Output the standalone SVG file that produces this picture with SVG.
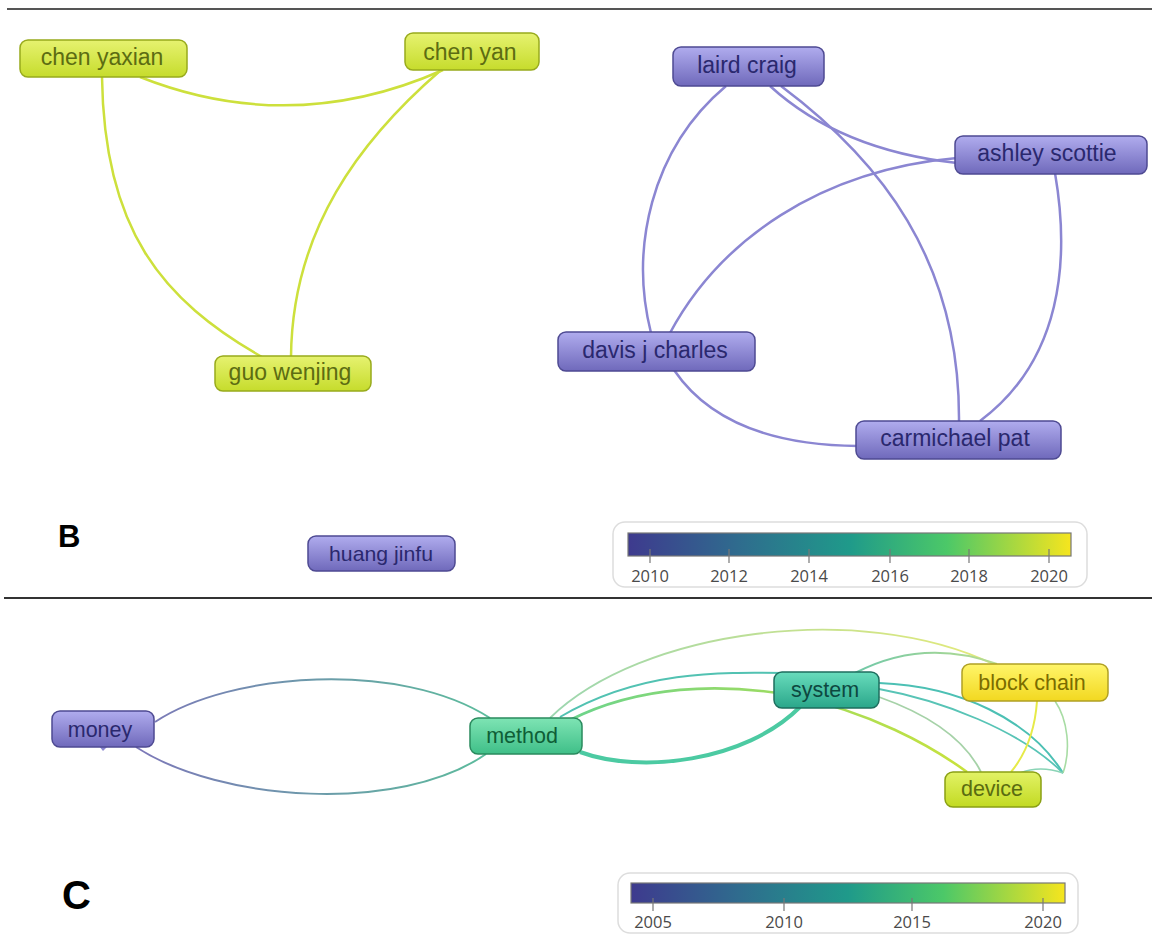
<svg xmlns="http://www.w3.org/2000/svg" width="1152" height="934" viewBox="0 0 1152 934">
<defs>
<linearGradient id="gYel" x1="0" y1="0" x2="0" y2="1"><stop offset="0" stop-color="#e6f270"/><stop offset="1" stop-color="#c6dc2c"/></linearGradient>
<linearGradient id="gPur" x1="0" y1="0" x2="0" y2="1"><stop offset="0" stop-color="#b0acee"/><stop offset="1" stop-color="#6f69bb"/></linearGradient>
<linearGradient id="gMeth" x1="0" y1="0" x2="0" y2="1"><stop offset="0" stop-color="#7ee4b4"/><stop offset="1" stop-color="#3fbf88"/></linearGradient>
<linearGradient id="gSys" x1="0" y1="0" x2="0" y2="1"><stop offset="0" stop-color="#68dcbc"/><stop offset="1" stop-color="#2aa68a"/></linearGradient>
<linearGradient id="gBlk" x1="0" y1="0" x2="0" y2="1"><stop offset="0" stop-color="#fff56a"/><stop offset="1" stop-color="#f2d820"/></linearGradient>
<linearGradient id="gDev" x1="0" y1="0" x2="0" y2="1"><stop offset="0" stop-color="#e2f266"/><stop offset="1" stop-color="#c2da22"/></linearGradient>
<linearGradient id="viridis" x1="0" y1="0" x2="1" y2="0"><stop offset="0" stop-color="#3e3a8e"/><stop offset="0.25" stop-color="#2f6c8e"/><stop offset="0.5" stop-color="#1f9a8a"/><stop offset="0.72" stop-color="#4cc868"/><stop offset="1" stop-color="#f6e51e"/></linearGradient>
<linearGradient id="eMoney" gradientUnits="userSpaceOnUse" x1="140" y1="0" x2="490" y2="0"><stop offset="0" stop-color="#7c78b8"/><stop offset="1" stop-color="#5cbc9c"/></linearGradient>
<linearGradient id="eTop" gradientUnits="userSpaceOnUse" x1="550" y1="0" x2="995" y2="0"><stop offset="0" stop-color="#9cd6b0"/><stop offset="1" stop-color="#e4ea78"/></linearGradient>
<linearGradient id="eMD" gradientUnits="userSpaceOnUse" x1="570" y1="0" x2="966" y2="0"><stop offset="0" stop-color="#6cd48c"/><stop offset="1" stop-color="#c8e23c"/></linearGradient>
<linearGradient id="eSB" gradientUnits="userSpaceOnUse" x1="855" y1="0" x2="995" y2="0"><stop offset="0" stop-color="#70c8a8"/><stop offset="1" stop-color="#b8dc90"/></linearGradient>
</defs>
<style>
.nt{font-family:"Liberation Sans",Arial,sans-serif;text-anchor:middle}
.b{font-size:23px}
.c{font-size:21.5px}
.ny rect{fill:url(#gYel);stroke:#98aa1c;stroke-width:1.5}
.ny text{fill:#5c6c12}
.np rect{fill:url(#gPur);stroke:#4e4a92;stroke-width:1.5}
.np text{fill:#2a286e}
.ey{fill:none;stroke:#cde03c;stroke-width:2.5}
.ep{fill:none;stroke:#8b86d2;stroke-width:2.5}
.ec{fill:none}
.lg{font-family:"Open Sans","DejaVu Sans",sans-serif;font-size:16.5px;fill:#4a4a4a;text-anchor:middle}
.tk{stroke:#777;stroke-width:1.2}
.pl{font-family:"Liberation Sans",Arial,sans-serif;font-weight:bold;fill:#000}
</style>
<rect x="0" y="0" width="1152" height="934" fill="#fff"/>
<line x1="7" y1="9" x2="1152" y2="9" stroke="#555" stroke-width="2"/>
<line x1="4" y1="598" x2="1152" y2="598" stroke="#333" stroke-width="2"/>

<g id="connectors">
<path class="ey" d="M140,77 Q292,137 443,70"/>
<path class="ey" d="M102,77 C104,230 162,300 262,357"/>
<path class="ey" d="M441,70 C360,140 292,230 291,357"/>
<path class="ep" d="M726,86 C650,150 630,250 651,333"/>
<path class="ep" d="M770,86 Q840,150 957,163"/>
<path class="ep" d="M781,86 C880,160 960,260 959,421"/>
<path class="ep" d="M957,158 C820,170 720,240 670,333"/>
<path class="ep" d="M1055,173 C1070,260 1062,360 980,421"/>
<path class="ep" d="M674,370 Q725,445 858,446"/>
<path class="ec" stroke="url(#eMoney)" stroke-width="2" d="M155,722 C230,672 400,660 490,718"/>
<path class="ec" stroke="url(#eMoney)" stroke-width="2" d="M136,747 C220,802 400,814 486,754"/>
<path class="ec" stroke="url(#eTop)" stroke-width="1.8" d="M550,718 C640,630 860,600 993,664"/>
<path class="ec" stroke="#52c2b2" stroke-width="2" d="M560,717 C640,670 720,672 790,673"/>
<path class="ec" stroke="url(#eMD)" stroke-width="2.6" d="M570,720 C640,685 720,683 790,695 C870,712 930,745 967,772"/>
<path class="ec" stroke="#4ccaa2" stroke-width="4" d="M580,752 C640,774 745,762 800,707"/>
<path class="ec" stroke="url(#eSB)" stroke-width="2" d="M855,673 C880,660 930,640 997,664"/>
<path class="ec" stroke="#4cc0b4" stroke-width="2" d="M879,683 C960,686 1030,720 1063,773"/>
<path class="ec" stroke="#58c4b6" stroke-width="1.8" d="M879,689 C940,700 1020,730 1063,773"/>
<path class="ec" stroke="#a6d2a8" stroke-width="1.8" d="M879,697 C930,715 965,740 981,772"/>
<path class="ec" stroke="#e6ea48" stroke-width="2" d="M1037,701 C1035,730 1025,755 1011,772"/>
<path class="ec" stroke="#a8dca4" stroke-width="1.6" d="M1055,701 C1068,720 1071,750 1063,773"/>
<path class="ec" stroke="#8ad4b6" stroke-width="1.6" d="M1020,773 Q1040,765 1063,773"/>
</g>

<g id="node-chen-yaxian" class="ny"><rect x="20" y="40" width="167" height="37" rx="8"/><text class="nt b" x="102" y="65">chen yaxian</text></g>
<g id="node-chen-yan" class="ny"><rect x="405" y="33" width="134" height="37" rx="8"/><text class="nt b" x="470" y="60">chen yan</text></g>
<g id="node-guo-wenjing" class="ny"><rect x="215" y="356" width="156" height="35" rx="8"/><text class="nt b" x="290" y="380">guo wenjing</text></g>
<g id="node-laird-craig" class="np"><rect x="673" y="47" width="151" height="39" rx="8"/><text class="nt b" x="747" y="73">laird craig</text></g>
<g id="node-ashley-scottie" class="np"><rect x="955" y="136" width="192" height="38" rx="8"/><text class="nt b" x="1047" y="161">ashley scottie</text></g>
<g id="node-davis-j-charles" class="np"><rect x="558" y="332" width="197" height="39" rx="8"/><text class="nt b" x="655" y="358">davis j charles</text></g>
<g id="node-carmichael-pat" class="np"><rect x="856" y="421" width="205" height="38" rx="8"/><text class="nt b" x="955" y="446">carmichael pat</text></g>
<g id="node-huang-jinfu" class="np"><rect x="308" y="536" width="147" height="35" rx="8"/><text class="nt" x="381" y="561" font-size="21" textLength="104" lengthAdjust="spacingAndGlyphs">huang jinfu</text></g>

<text class="pl" x="58" y="547" font-size="31">B</text>

<g id="legend-b">
<rect x="613" y="522" width="474" height="65" rx="12" fill="#fff" stroke="#ddd" stroke-width="1.5"/>
<rect x="628" y="533" width="443" height="23" fill="url(#viridis)" stroke="#777" stroke-width="1.2"/>
<line class="tk" x1="650" y1="549" x2="650" y2="563"/>
<line class="tk" x1="729" y1="549" x2="729" y2="563"/>
<line class="tk" x1="809" y1="549" x2="809" y2="563"/>
<line class="tk" x1="890" y1="549" x2="890" y2="563"/>
<line class="tk" x1="969" y1="549" x2="969" y2="563"/>
<line class="tk" x1="1049" y1="549" x2="1049" y2="563"/>
<text class="lg" x="650" y="582">2010</text>
<text class="lg" x="729" y="582">2012</text>
<text class="lg" x="809" y="582">2014</text>
<text class="lg" x="890" y="582">2016</text>
<text class="lg" x="969" y="582">2018</text>
<text class="lg" x="1049" y="582">2020</text>
</g>

<g id="node-money" class="np"><path d="M99,746 L103,751 L108,746 Z" fill="#8c88d0"/><rect x="52" y="711" width="102" height="36" rx="8"/><text class="nt c" x="100" y="737">money</text></g>
<g id="node-method"><rect x="470" y="718" width="112" height="36" rx="8" fill="url(#gMeth)" stroke="#2a8a5e" stroke-width="1.5"/><text class="nt c" x="522" y="743" fill="#0e5e36">method</text></g>
<g id="node-system"><rect x="774" y="672" width="105" height="36" rx="8" fill="url(#gSys)" stroke="#1e6e5e" stroke-width="1.5"/><text class="nt c" x="825" y="697" fill="#0d4840">system</text></g>
<g id="node-block-chain"><rect x="962" y="664" width="146" height="37" rx="8" fill="url(#gBlk)" stroke="#b0a024" stroke-width="1.5"/><text class="nt c" x="1032" y="690" fill="#7a6c00">block chain</text></g>
<g id="node-device"><rect x="945" y="772" width="96" height="35" rx="8" fill="url(#gDev)" stroke="#8aa014" stroke-width="1.5"/><text class="nt c" x="992" y="796" fill="#5a6c10">device</text></g>

<text class="pl" x="62" y="909" font-size="40">C</text>

<g id="legend-c">
<rect x="618" y="873" width="460" height="60" rx="12" fill="#fff" stroke="#ddd" stroke-width="1.5"/>
<rect x="631" y="883" width="434" height="20" fill="url(#viridis)" stroke="#777" stroke-width="1.2"/>
<line class="tk" x1="653" y1="898" x2="653" y2="911"/>
<line class="tk" x1="784" y1="898" x2="784" y2="911"/>
<line class="tk" x1="912" y1="898" x2="912" y2="911"/>
<line class="tk" x1="1043" y1="898" x2="1043" y2="911"/>
<text class="lg" x="653" y="928">2005</text>
<text class="lg" x="784" y="928">2010</text>
<text class="lg" x="912" y="928">2015</text>
<text class="lg" x="1043" y="928">2020</text>
</g>
</svg>
